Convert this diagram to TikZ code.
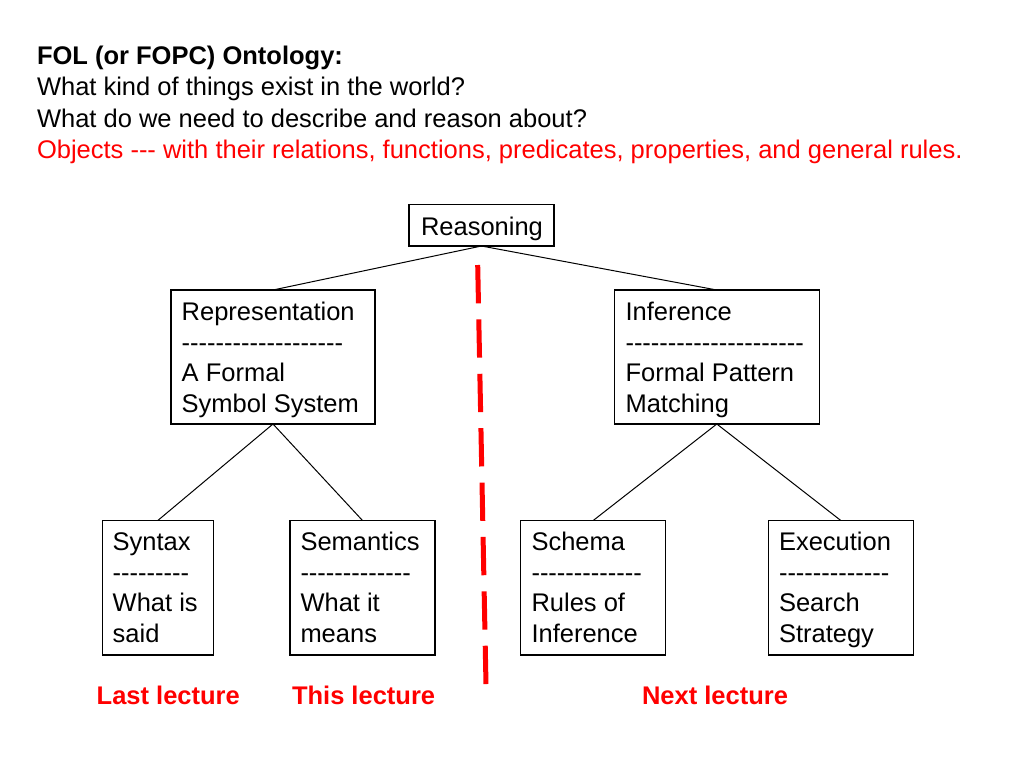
\documentclass[tikz,border=0pt]{standalone}
\usepackage{fontspec}
\setmainfont{Liberation Sans}[Ligatures=TeXOff]
\newcommand\bxt[1]{\begin{tabular}[t]{@{}l@{}}#1\end{tabular}}
\begin{document}
\begin{tikzpicture}[x=1pt,y=-1pt,
  every node/.style={inner sep=0pt, outer sep=0pt, font=\fontsize{25.5}{30.5}\selectfont},
  boxnode/.style={draw=black, line width=1.2pt, anchor=north west},
  txt/.style={anchor=base west},
  conn/.style={draw=black, line width=1pt},
  lect/.style={anchor=base west, text=red, font=\fontsize{25.5}{30.5}\selectfont\bfseries},
  divider/.style={draw=red, line width=5pt, dash pattern=on 38.3pt off 16.1pt}
]
\useasboundingbox[fill=white] (0,0) rectangle (1024,768);

% title
\node[txt, font=\fontsize{25.5}{30.5}\selectfont\bfseries] (t1) at (37,64) {FOL (or FOPC) Ontology:};
\node[txt] (t2) at (37,95.5) {What kind of things exist in the world?};
\node[txt] (t3) at (37,127) {What do we need to describe and reason about?};
\node[txt, text=red] (t4) at (37,158.5) {Objects --- with their relations, functions, predicates, properties, and general rules.};

% boxes
\node[boxnode, minimum width=145pt, minimum height=41.5pt] (reas) at (409,204.5) {};
\node[boxnode, minimum width=204pt, minimum height=134pt] (rep) at (171,290) {};
\node[boxnode, minimum width=205pt, minimum height=134pt] (inf) at (614.3,290) {};
\node[boxnode, minimum width=111pt, minimum height=134.5pt] (syn) at (102.3,520.5) {};
\node[boxnode, minimum width=145pt, minimum height=134.5pt] (sem) at (290,520.5) {};
\node[boxnode, minimum width=145pt, minimum height=134.5pt] (sch) at (520.7,520.5) {};
\node[boxnode, minimum width=145pt, minimum height=134.5pt] (exe) at (768.3,520.5) {};

% box texts
\node[txt] (reas-t) at (421,235) {Reasoning};
\node[txt] (rep-t) at (181.7,320.5) {\bxt{Representation\\-------------------\\A Formal\\Symbol System}};
\node[txt] (inf-t) at (625.5,320.5) {\bxt{Inference\\---------------------\\Formal Pattern\\Matching}};
\node[txt] (syn-t) at (112.7,550.8) {\bxt{Syntax\\---------\\What is\\said}};
\node[txt] (sem-t) at (300.5,550.8) {\bxt{Semantics\\-------------\\What it\\means}};
\node[txt] (sch-t) at (531.5,550.8) {\bxt{Schema\\-------------\\Rules of\\Inference}};
\node[txt] (exe-t) at (779,550.8) {\bxt{Execution\\-------------\\Search\\Strategy}};

% connectors
\draw[conn] (reas.south) -- (rep.north);
\draw[conn] (reas.south) -- (inf.north);
\draw[conn] (rep.south) -- (syn.north);
\draw[conn] (rep.south) -- (sem.north);
\draw[conn] (inf.south) -- (sch.north);
\draw[conn] (inf.south) -- (exe.north);

% red divider
\coordinate (d1) at (477.7,265);
\coordinate (d2) at (486,685);
\draw[divider] (d1) -- (d2);

% lecture labels
\node[lect] (last) at (96.7,704) {Last lecture};
\node[lect] (this) at (292,704) {This lecture};
\node[lect] (next) at (642,704) {Next lecture};
\end{tikzpicture}
\end{document}
